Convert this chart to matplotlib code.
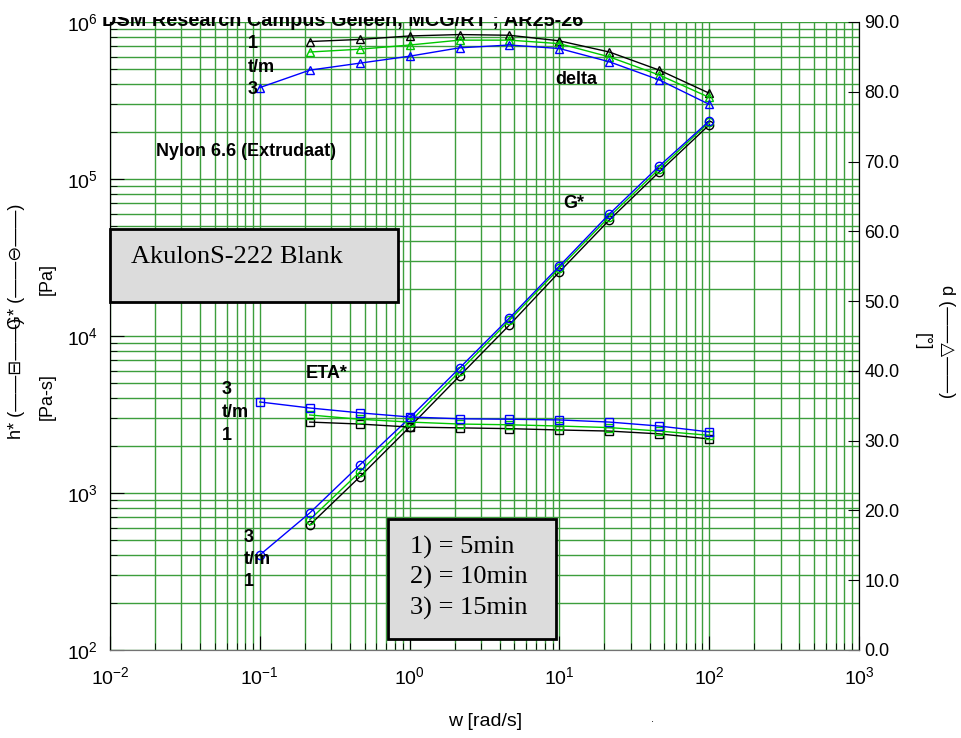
import numpy as np
import matplotlib
matplotlib.use("Agg")
import matplotlib.pyplot as plt
from matplotlib.patches import Rectangle
from matplotlib.ticker import LogLocator, FixedLocator, FormatStrFormatter, NullFormatter
from matplotlib.transforms import Bbox, TransformedBbox

plt.rcParams['font.family'] = ['Liberation Sans', 'DejaVu Sans']
plt.rcParams['mathtext.default'] = 'regular'
plt.rcParams['axes.unicode_minus'] = False

"""DATA"""
freq = [0.1, 0.2154, 0.4642, 1.0, 2.154, 4.642, 10.0, 21.54, 46.42, 100.0]

# G* [Pa], runs 1 and 2 start at the second frequency
gstar_1 = [625, 1265, 2630, 5560, 11750, 25600, 54800, 111000, 221000]
gstar_2 = [675, 1360, 2820, 5950, 12600, 27000, 57500, 116000, 230000]
gstar_3 = [403, 746, 1507, 3006, 6250, 13030, 27900, 59800, 121000, 234000]

# eta* [Pa-s]
eta_1 = [2830, 2750, 2630, 2600, 2570, 2520, 2480, 2380, 2210]
eta_2 = [3140, 2950, 2830, 2750, 2720, 2670, 2610, 2480, 2330]
eta_3 = [3800, 3480, 3240, 3050, 2970, 2950, 2920, 2830, 2670, 2450]

# delta [deg]
delta_1 = [87.2, 87.5, 88.0, 88.2, 88.1, 87.3, 85.7, 83.1, 79.8]
delta_2 = [85.7, 86.1, 86.7, 87.4, 87.4, 86.9, 85.0, 82.4, 79.2]
delta_3 = [80.6, 83.1, 84.1, 85.1, 86.3, 86.7, 86.2, 84.3, 81.7, 78.2]

delta_ticks = [0, 10, 20, 30, 40, 50, 60, 70, 80, 90]
legend_lines = ["1) = 5min", "2) = 10min", "3) = 15min"]

c1, c2, c3 = 'black', '#00c800', '#0000ff'
W, H = 962, 738


def px(x, y):
    return x / W, 1 - y / H


"""PLOTTING"""
fig = plt.figure(figsize=(9.62, 7.38), dpi=100)
ax = fig.add_axes([110 / W, 1 - 650 / H, (859 - 110) / W, (650 - 22) / H])
ax.set_xscale('log')
ax.set_yscale('log')
ax.set_xlim(1e-2, 1e3)
ax.set_ylim(1e2, 1e6)

ax.xaxis.set_major_locator(LogLocator(base=10, numticks=10))
ax.xaxis.set_minor_locator(LogLocator(base=10, subs=np.arange(2, 10), numticks=20))
ax.yaxis.set_major_locator(LogLocator(base=10, numticks=10))
ax.yaxis.set_minor_locator(LogLocator(base=10, subs=np.arange(2, 10), numticks=20))
ax.xaxis.set_minor_formatter(NullFormatter())
ax.yaxis.set_minor_formatter(NullFormatter())
ax.grid(True, which='both', color='#3c9e3c', linewidth=1.0)
ax.set_axisbelow(True)
ax.tick_params(which='both', direction='in', labelsize=14)
ax.tick_params(which='major', length=10)
ax.tick_params(which='minor', length=5)
ax.tick_params(axis='x', pad=12)
ax.tick_params(axis='y', pad=9)
ax.spines['top'].set_visible(False)
ax.spines['bottom'].set_color('0.45')

mk = dict(markersize=6, markerfacecolor='none', linewidth=1.0, markeredgewidth=1.0)
ax.plot(freq[1:], gstar_1, marker='o', color=c1, **mk)
ax.plot(freq[1:], gstar_2, marker='o', color=c2, **mk)
ax.plot(freq, gstar_3, marker='o', color=c3, **mk)
ax.plot(freq[1:], eta_1, marker='s', color=c1, **mk)
ax.plot(freq[1:], eta_2, marker='s', color=c2, **mk)
ax.plot(freq, eta_3, marker='s', color=c3, **mk)

ax2 = ax.twinx()
ax2.set_ylim(0, 90)
ax2.yaxis.set_major_locator(FixedLocator(delta_ticks))
ax2.yaxis.set_major_formatter(FormatStrFormatter('%.1f'))
ax2.tick_params(direction='in', length=8, labelsize=13, pad=4)
ax2.spines['top'].set_visible(False)
ax2.spines['bottom'].set_color('0.45')
ax2.plot(freq[1:], delta_1, marker='^', color=c1, **mk)
ax2.plot(freq[1:], delta_2, marker='^', color=c2, **mk)
ax2.plot(freq, delta_3, marker='^', color=c3, **mk)

# header text, upper half hidden as in the original
t = fig.text(*px(102, 26), "DSM Research Campus Geleen, MCG/RT ; AR25-26",
             fontsize=14.3, fontweight='bold', ha='left', va='baseline')
t.set_clip_box(TransformedBbox(Bbox([[0, 0], [1, 1 - 17 / H]]), fig.transFigure))
t.set_clip_on(True)

bold = dict(fontsize=13, fontweight='bold', ha='left', va='center')
for x0, ys, labels in [(248, (43, 67, 89), ("1", "t/m", "3")),
                       (222, (390, 412, 435), ("3", "t/m", "1")),
                       (244, (538, 560, 582), ("3", "t/m", "1"))]:
    for yy, s in zip(ys, labels):
        fig.text(*px(x0, yy), s, **bold)
fig.text(*px(156, 152), "Nylon 6.6 (Extrudaat)", **bold)
fig.text(*px(555, 80), "delta", **bold)
fig.text(*px(563, 203), "G*", **bold)
fig.text(*px(306, 374), "ETA*", **bold)

# boxes
fig.patches.append(Rectangle(px(110, 302), (398 - 110) / W, (302 - 229) / H,
                             transform=fig.transFigure, facecolor='#dcdcdc',
                             edgecolor='black', linewidth=2, zorder=5))
fig.text(*px(131, 257), "AkulonS-222 Blank", family='Liberation Serif',
         fontsize=19, ha='left', va='center', zorder=6)
fig.patches.append(Rectangle(px(388, 639), (556 - 388) / W, (639 - 519) / H,
                             transform=fig.transFigure, facecolor='#dcdcdc',
                             edgecolor='black', linewidth=2, zorder=5))
for i, s in enumerate(legend_lines):
    fig.text(*px(410, 547 + 30.5 * i), s, family='Liberation Serif',
             fontsize=19, ha='left', va='center', zorder=6)

# axis labels
fig.text(*px(17, 378), "h* (——⊟——)", rotation=90, fontsize=13, ha='center', va='center')
fig.text(*px(17, 266), "G* (——⊖——)", rotation=90, fontsize=13, ha='center', va='center')
fig.text(*px(47, 397), "[Pa-s]", rotation=90, fontsize=13, ha='center', va='center')
fig.text(*px(47, 279), "[Pa]", rotation=90, fontsize=13, ha='center', va='center')
fig.text(*px(947, 342), "d (——△——)", rotation=-90, fontsize=13, ha='center', va='center')
fig.text(*px(922, 342), "[°]", rotation=-90, fontsize=13, ha='center', va='center')
fig.text(*px(485, 722), "w [rad/s]", fontsize=14, ha='center', va='center')
fig.text(*px(652, 719), ".", fontsize=8, ha='center', va='center')

fig.savefig('out.png', dpi=100)
